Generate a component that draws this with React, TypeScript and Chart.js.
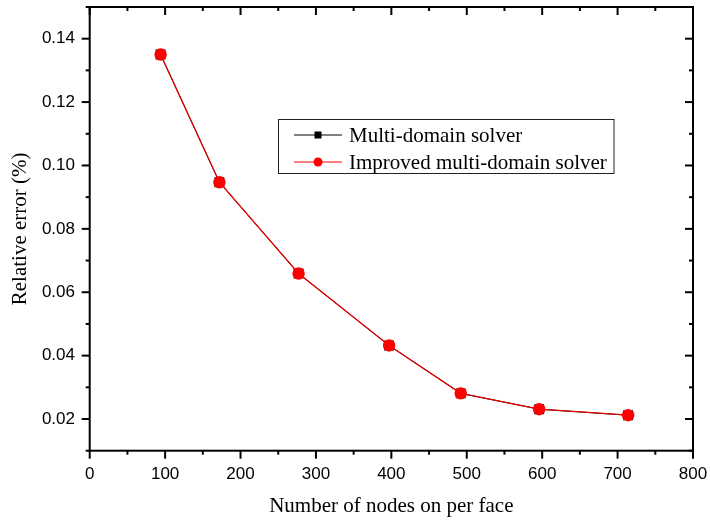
import React, { useEffect, useRef } from 'react';
import { Chart, registerables } from 'chart.js';

Chart.register(...registerables);

// ---- data ----
const nodesPerFace = [94, 172, 277, 397, 492, 596, 714];
const multiDomainError = [0.135, 0.0947, 0.0659, 0.0432, 0.0281, 0.0231, 0.0212];
const improvedError = [0.135, 0.0947, 0.0659, 0.0432, 0.0281, 0.0231, 0.0212];
const seriesLabels = ['Multi-domain solver', 'Improved multi-domain solver'];
const xTicks = [0, 100, 200, 300, 400, 500, 600, 700, 800];
const xMinorTicks = [50, 150, 250, 350, 450, 550, 650, 750];
const yTicks = [0.02, 0.04, 0.06, 0.08, 0.1, 0.12, 0.14];
const yMinorTicks = [0.01, 0.03, 0.05, 0.07, 0.09, 0.11, 0.13, 0.15];
const xTitle = 'Number of nodes on per face';
const yTitle = 'Relative error (%)';

const SERIF = '"Liberation Serif", "Times New Roman", Times, serif';
const SANS = '"Liberation Sans", Arial, Helvetica, sans-serif';

const framePlugin = {
  id: 'frame',
  afterDraw(chart: any) {
    const { ctx, chartArea } = chart;
    const { left, right, top, bottom } = chartArea;
    const xs = chart.scales.x;
    const ys = chart.scales.y;
    ctx.save();
    ctx.strokeStyle = '#000';
    ctx.lineWidth = 2;
    ctx.strokeRect(left, top, right - left, bottom - top);
    const seg = (x1: number, y1: number, x2: number, y2: number) => {
      ctx.beginPath();
      ctx.moveTo(x1, y1);
      ctx.lineTo(x2, y2);
      ctx.stroke();
    };
    xTicks.forEach((v) => {
      const p = xs.getPixelForValue(v);
      seg(p, bottom, p, bottom + 8);
      seg(p, top, p, top + 8);
    });
    xMinorTicks.forEach((v) => {
      const p = xs.getPixelForValue(v);
      seg(p, bottom, p, bottom + 4);
      seg(p, top, p, top + 4);
    });
    yTicks.forEach((v) => {
      const p = ys.getPixelForValue(v);
      seg(left - 8, p, left, p);
      seg(right - 8, p, right, p);
    });
    yMinorTicks.forEach((v) => {
      const p = ys.getPixelForValue(v);
      seg(left - 4, p, left, p);
      seg(right - 4, p, right, p);
    });

    // legend
    const bx = 278.5, by = 119.5, bw = 335.5, bh = 54;
    ctx.lineWidth = 1;
    ctx.strokeStyle = '#222';
    ctx.strokeRect(bx, by, bw, bh);
    const rows = [
      { y: 135, base: 142.3, color: '#000', style: 'rect' },
      { y: 162, base: 168.6, color: '#ff0000', style: 'circle' },
    ];
    ctx.font = `21px ${SERIF}`;
    ctx.textAlign = 'left';
    ctx.textBaseline = 'alphabetic';
    rows.forEach((r, i) => {
      ctx.strokeStyle = r.color;
      ctx.lineWidth = 1;
      seg(294, r.y, 342, r.y);
      ctx.fillStyle = r.color;
      if (r.style === 'rect') {
        ctx.fillRect(318 - 3.5, r.y - 3.5, 7, 7);
      } else {
        ctx.beginPath();
        ctx.arc(318, r.y, 4.5, 0, Math.PI * 2);
        ctx.fill();
      }
      ctx.fillStyle = '#000';
      ctx.fillText(seriesLabels[i], 349, r.base);
    });
    ctx.restore();
  },
};

export default function App() {
  const ref = useRef<HTMLCanvasElement>(null);
  useEffect(() => {
    const canvas = ref.current!;
    const chart = new Chart(canvas, {
      type: 'line',
      data: {
        datasets: [
          {
            label: seriesLabels[0],
            data: nodesPerFace.map((x, i) => ({ x, y: multiDomainError[i] })),
            borderColor: '#000',
            backgroundColor: '#000',
            borderWidth: 1,
            pointStyle: 'rect',
            pointRadius: 7.0,
            pointBorderWidth: 0,
            order: 1,
          },
          {
            label: seriesLabels[1],
            data: nodesPerFace.map((x, i) => ({ x, y: improvedError[i] })),
            borderColor: '#e00000',
            backgroundColor: '#ff0000',
            borderWidth: 1.3,
            pointStyle: 'circle',
            pointRadius: 6.2,
            pointBorderWidth: 0,
            order: 0,
          },
        ],
      },
      options: {
        animation: false,
        responsive: false,
        events: [],
        layout: { padding: { top: 6.7, right: 17, left: 0, bottom: 0 } },
        plugins: { legend: { display: false }, tooltip: { enabled: false } },
        scales: {
          x: {
            type: 'linear',
            min: 0,
            max: 800,
            afterBuildTicks: (s: any) => {
              s.ticks = xTicks.map((v) => ({ value: v }));
            },
            afterFit: (s: any) => {
              s.height = 72.3;
              s.paddingLeft = 0;
              s.paddingRight = 0;
            },
            grid: { display: true, drawOnChartArea: false, drawTicks: false },
            border: { display: false },
            ticks: {
              padding: 13,
              color: '#000',
              autoSkip: false,
              maxRotation: 0,
              font: { family: SANS, size: 17 },
              callback: (v: any) => String(v),
            },
            title: {
              display: true,
              text: xTitle,
              color: '#000',
              font: { family: SERIF, size: 21 },
              padding: { top: 0, bottom: 4 },
            },
          },
          y: {
            type: 'linear',
            min: 0.01,
            max: 0.15,
            afterBuildTicks: (s: any) => {
              s.ticks = yTicks.map((v) => ({ value: v }));
            },
            afterFit: (s: any) => {
              s.width = 89.7;
              s.paddingTop = 0;
              s.paddingBottom = 0;
            },
            grid: { display: true, drawOnChartArea: false, drawTicks: false },
            border: { display: false },
            ticks: {
              padding: 14.7,
              color: '#000',
              autoSkip: false,
              font: { family: SANS, size: 17 },
              callback: (v: any) => Number(v).toFixed(2),
            },
            title: {
              display: true,
              text: yTitle,
              color: '#000',
              font: { family: SERIF, size: 21 },
              padding: { top: 8, bottom: 0 },
            },
          },
        },
      },
      plugins: [framePlugin],
    } as any);
    return () => chart.destroy();
  }, []);
  return (
    <div style={{ position: 'fixed', left: 0, top: 0, width: 710, height: 523, background: '#fff' }}>
      <canvas ref={ref} width={710} height={523} style={{ display: 'block' }} />
    </div>
  );
}
